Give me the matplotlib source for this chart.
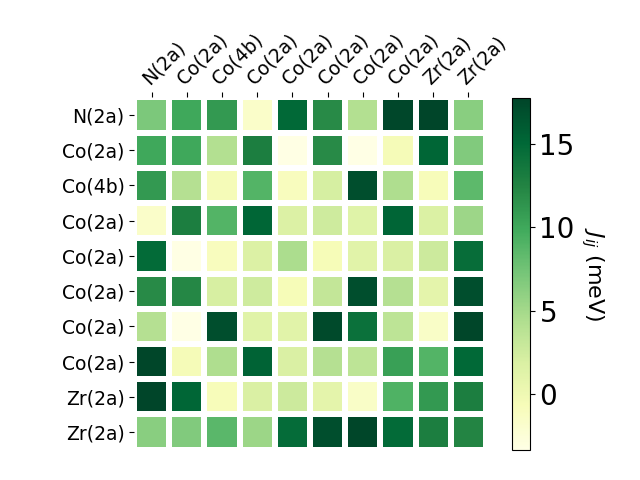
import numpy as np
import matplotlib
matplotlib.use("Agg")
import matplotlib.pyplot as plt

labels = ["N(2a)", "Co(2a)", "Co(4b)", "Co(2a)", "Co(2a)",
          "Co(2a)", "Co(2a)", "Co(2a)", "Zr(2a)", "Zr(2a)"]

row0 = [7.0, 10.0, 11.0, -1.7, 15.0, 12.0, 4.2, 17.5, 17.74, 6.3]
row1 = [10.0, 10.0, 4.2, 13.0, -3.2, 12.0, -3.36, -0.5, 15.2, 6.7]
row2 = [11.0, 4.1, -0.5, 9.0, -1.0, 2.1, 17.0, 4.4, -0.8, 8.5]
row3 = [-1.7, 13.0, 9.0, 15.2, 1.7, 2.6, 1.4, 15.3, 1.8, 5.3]
row4 = [14.8, -3.2, -1.0, 1.7, 4.6, -0.6, 1.2, 1.9, 2.7, 14.6]
row5 = [12.0, 12.3, 2.0, 2.6, -0.6, 3.3, 17.0, 4.1, 1.0, 17.0]
row6 = [4.1, -3.36, 17.0, 1.3, 1.2, 17.3, 14.2, 3.6, -1.5, 17.6]
row7 = [17.6, -0.5, 4.4, 15.5, 1.9, 4.1, 3.6, 10.5, 9.0, 15.0]
row8 = [17.74, 15.2, -0.8, 1.9, 2.7, 1.0, -1.5, 9.1, 11.0, 13.0]
row9 = [6.3, 6.7, 8.6, 5.4, 14.7, 17.0, 17.6, 14.8, 13.0, 12.4]

J = np.array([row0, row1, row2, row3, row4, row5, row6, row7, row8, row9])

fig = plt.figure(figsize=(6.4, 4.8), dpi=100)
ax = fig.add_axes([134.1 / 640, (480 - 449.6) / 480, 351.9 / 640, 352.2 / 480])
cax = fig.add_axes([512.3 / 640, (480 - 450) / 480, 17.4 / 640, 351.7 / 480])

n = len(labels)
mesh = ax.pcolormesh(np.arange(n + 1), np.arange(n + 1), J, cmap="YlGn",
                     edgecolors="white", linewidth=3)
ax.set_xlim(0, n)
ax.set_ylim(n, 0)
for s in ax.spines.values():
    s.set_visible(False)

ax.xaxis.tick_top()
ax.set_xticks(np.arange(n) + 0.5)
ax.set_yticks(np.arange(n) + 0.5)
ax.set_xticklabels(labels, rotation=45, fontsize=13.5,
                   ha="left", va="bottom", rotation_mode="anchor")
ax.set_yticklabels(labels, fontsize=13.5)

cb = fig.colorbar(mesh, cax=cax)
cb.ax.tick_params(labelsize=20)
cb.set_label("$J_{ij}$ (meV)", rotation=270, fontsize=16, labelpad=22)

fig.savefig("out.png", dpi=100)
